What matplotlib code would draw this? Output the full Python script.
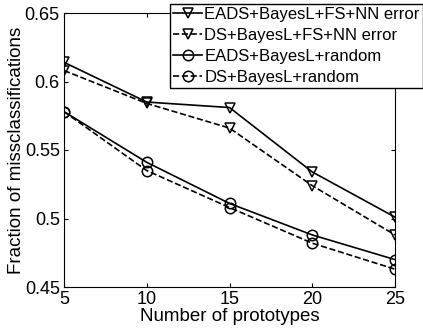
import matplotlib
matplotlib.use("Agg")
import matplotlib.pyplot as plt

plt.rcParams['font.family'] = ['Liberation Sans', 'DejaVu Sans']

prototypes = [5, 10, 15, 20, 25]
eads_fs = [0.614, 0.585, 0.581, 0.534, 0.501]
ds_fs = [0.608, 0.584, 0.566, 0.524, 0.488]
eads_rand = [0.578, 0.541, 0.511, 0.488, 0.470]
ds_rand = [0.578, 0.535, 0.508, 0.482, 0.463]

fig = plt.figure(figsize=(4.23, 3.30), dpi=100)
ax = fig.add_axes([64/423, 1 - 287/330, (395-64)/423, (287-13)/330])

mk = dict(markerfacecolor="none", markeredgecolor="black", markersize=7.5, markeredgewidth=1.1, linewidth=1.2, color="black")
ax.plot(prototypes, eads_fs, "-", marker="v", label="EADS+BayesL+FS+NN error", **mk)
ax.plot(prototypes, ds_fs, "--", marker="v", label="DS+BayesL+FS+NN error", **mk)
ax.plot(prototypes, eads_rand, "-", marker="o", label="EADS+BayesL+random", **mk)
ax.plot(prototypes, ds_rand, "--", marker="o", label="DS+BayesL+random", **mk)

ax.set_xlim(5, 25)
ax.set_ylim(0.45, 0.65)
ax.set_xticks([5, 10, 15, 20, 25])
ax.set_yticks([0.45, 0.5, 0.55, 0.6, 0.65])
ax.set_yticklabels(["0.45", "0.5", "0.55", "0.6", "0.65"])
ax.tick_params(direction="in", top=True, right=True, labelsize=13, length=3, pad=3)
ax.set_xlabel("Number of prototypes", fontsize=13.5, labelpad=0)
ax.set_ylabel("Fraction of missclassifications", fontsize=13.5, labelpad=0)

leg = ax.legend(loc="upper left", bbox_to_anchor=(170/423, 1 - 4/330), bbox_transform=fig.transFigure,
                fontsize=12, frameon=True, fancybox=False, borderpad=0.2, labelspacing=0.35,
                handlelength=1.7, handletextpad=0.15, borderaxespad=0)
leg.get_frame().set_edgecolor("black")
leg.get_frame().set_linewidth(1.0)
leg.get_frame().set_alpha(1)

plt.savefig("out.png", dpi=100)
